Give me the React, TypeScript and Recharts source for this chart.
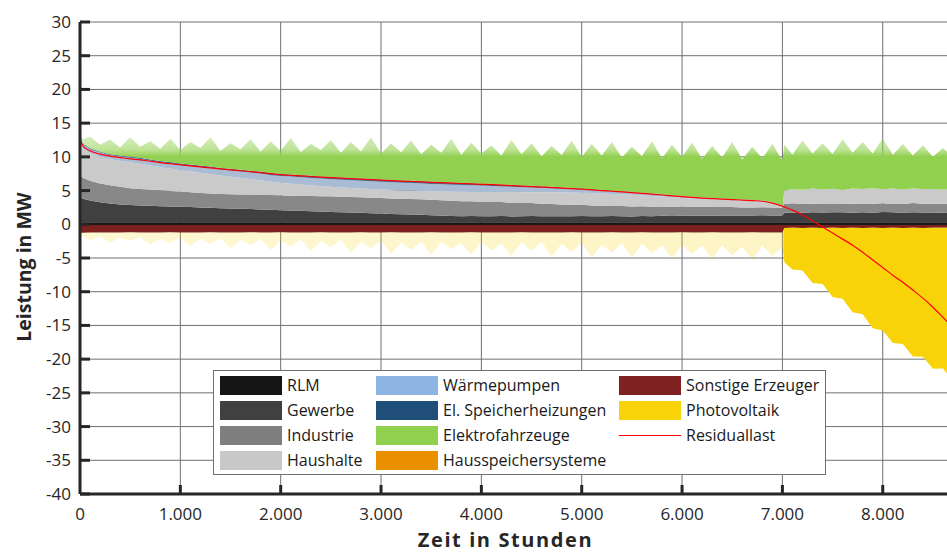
import React from 'react';
import {
  ComposedChart,
  Area,
  Line,
  XAxis,
  YAxis,
  CartesianGrid,
  ReferenceLine,
  Legend,
} from 'recharts';

// Hours of the year, sorted by descending residual load
const hours = [
  0, 30, 100, 200, 300, 400, 500, 600, 700, 800,
  900, 1000, 1100, 1200, 1300, 1400, 1500, 1600, 1700, 1800,
  1900, 2000, 2100, 2200, 2300, 2400, 2500, 2600, 2700, 2800,
  2900, 3000, 3100, 3200, 3300, 3400, 3500, 3600, 3700, 3800,
  3900, 4000, 4100, 4200, 4300, 4400, 4500, 4600, 4700, 4800,
  4900, 5000, 5100, 5200, 5300, 5400, 5500, 5600, 5700, 5800,
  5900, 6000, 6100, 6200, 6300, 6400, 6500, 6600, 6700, 6800,
  6900, 7000, 7020, 7100, 7200, 7300, 7400, 7500, 7600, 7700,
  7800, 7900, 8000, 8100, 8200, 8300, 8400, 8500, 8600, 8700,
  8760,
];

// Loads in MW (positive stack)
const rlm = [
  0.3, 0.3, 0.31, 0.3, 0.29, 0.3, 0.31, 0.3, 0.3, 0.29,
  0.3, 0.3, 0.31, 0.3, 0.3, 0.29, 0.3, 0.31, 0.3, 0.3,
  0.29, 0.3, 0.3, 0.31, 0.3, 0.3, 0.29, 0.3, 0.3, 0.31,
  0.3, 0.3, 0.29, 0.3, 0.31, 0.3, 0.3, 0.3, 0.29, 0.3,
  0.31, 0.3, 0.3, 0.29, 0.3, 0.3, 0.31, 0.3, 0.3, 0.29,
  0.3, 0.31, 0.3, 0.3, 0.29, 0.3, 0.3, 0.31, 0.3, 0.3,
  0.29, 0.3, 0.3, 0.31, 0.3, 0.3, 0.29, 0.3, 0.3, 0.31,
  0.3, 0.3, 0.32, 0.31, 0.32, 0.3, 0.31, 0.32, 0.3, 0.31,
  0.32, 0.3, 0.31, 0.32, 0.3, 0.31, 0.32, 0.3, 0.31, 0.32,
  0.3,
];

const gewerbe = [
  3.7, 3.5, 3.2, 2.95, 2.8, 2.65, 2.55, 2.5, 2.45, 2.4,
  2.35, 2.3, 2.25, 2.2, 2.15, 2.1, 2.05, 2.0, 1.95, 1.9,
  1.85, 1.8, 1.75, 1.7, 1.65, 1.6, 1.55, 1.5, 1.45, 1.4,
  1.35, 1.3, 1.25, 1.2, 1.15, 1.1, 1.05, 1.0, 0.95, 0.9,
  0.92, 0.88, 0.9, 0.95, 0.87, 0.9, 0.93, 0.89, 0.91, 0.9,
  0.9, 0.92, 0.88, 0.9, 0.93, 0.9, 0.87, 0.91, 0.9, 0.95,
  0.95, 0.97, 0.96, 1.0, 0.98, 1.0, 1.02, 1.0, 1.0, 1.03,
  1.0, 1.0, 1.4, 1.45, 1.4, 1.5, 1.42, 1.45, 1.5, 1.4,
  1.45, 1.4, 1.5, 1.45, 1.4, 1.48, 1.42, 1.45, 1.4, 1.45,
  1.4,
];

const industrie = [
  3.2, 3.1, 2.95, 2.8, 2.7, 2.6, 2.5, 2.45, 2.4, 2.35,
  2.3, 2.25, 2.2, 2.15, 2.1, 2.1, 2.1, 2.1, 2.15, 2.15,
  2.2, 2.2, 2.2, 2.25, 2.25, 2.25, 2.3, 2.3, 2.3, 2.3,
  2.3, 2.3, 2.3, 2.3, 2.3, 2.3, 2.3, 2.25, 2.25, 2.2,
  2.2, 2.15, 2.1, 2.05, 2.0, 1.95, 1.9, 1.85, 1.8, 1.75,
  1.7, 1.65, 1.6, 1.55, 1.5, 1.5, 1.45, 1.45, 1.4, 1.4,
  1.35, 1.35, 1.3, 1.3, 1.3, 1.25, 1.25, 1.2, 1.2, 1.2,
  1.2, 1.15, 1.3, 1.35, 1.3, 1.25, 1.35, 1.3, 1.3, 1.35,
  1.3, 1.35, 1.3, 1.25, 1.3, 1.35, 1.3, 1.3, 1.35, 1.3,
  1.3,
];

const haushalte = [
  5.2, 4.45, 4.13, 3.98, 3.86, 3.86, 3.84, 3.74, 3.57, 3.42,
  3.33, 3.17, 3.09, 2.98, 2.92, 2.73, 2.62, 2.48, 2.32, 2.18,
  1.95, 1.86, 1.77, 1.66, 1.57, 1.53, 1.43, 1.35, 1.32, 1.29,
  1.27, 1.25, 1.23, 1.21, 1.25, 1.24, 1.24, 1.34, 1.34, 1.44,
  1.37, 1.46, 1.49, 1.48, 1.6, 1.61, 1.62, 1.71, 1.74, 1.79,
  1.83, 1.81, 1.85, 1.83, 1.78, 1.74, 1.75, 1.63, 1.61, 1.46,
  1.42, 1.3, 1.27, 1.15, 1.12, 1.1, 1.03, 1.06, 1.0, 0.9,
  0.69, 0.3, 2.0, 2.1, 2.1, 2.25, 2.08, 2.2, 2.0, 2.25,
  2.15, 2.3, 2.1, 2.3, 2.15, 2.17, 2.18, 2.2, 2.05, 2.15,
  2.15,
];

const waermepumpen = [
  0.5, 0.5, 0.55, 0.6, 0.6, 0.65, 0.65, 0.7, 0.7, 0.75,
  0.75, 0.8, 0.8, 0.85, 0.85, 0.9, 0.9, 0.95, 0.95, 1.0,
  1.0, 1.0, 1.05, 1.05, 1.1, 1.1, 1.1, 1.15, 1.15, 1.15,
  1.15, 1.15, 1.15, 1.15, 1.1, 1.1, 1.1, 1.05, 1.05, 1.0,
  1.0, 0.95, 0.9, 0.85, 0.8, 0.75, 0.7, 0.65, 0.6, 0.55,
  0.5, 0.48, 0.45, 0.42, 0.4, 0.38, 0.35, 0.33, 0.3, 0.28,
  0.26, 0.24, 0.22, 0.2, 0.18, 0.16, 0.14, 0.12, 0.1, 0.08,
  0.06, 0.05, 0, 0, 0, 0, 0, 0, 0, 0,
  0, 0, 0, 0, 0, 0, 0, 0, 0, 0,
  0,
];

const speicherheizungen = [
  0.1, 0.1, 0.12, 0.12, 0.14, 0.14, 0.16, 0.16, 0.18, 0.18,
  0.2, 0.2, 0.22, 0.22, 0.24, 0.24, 0.26, 0.26, 0.28, 0.28,
  0.3, 0.3, 0.3, 0.32, 0.32, 0.32, 0.34, 0.34, 0.34, 0.35,
  0.35, 0.35, 0.35, 0.35, 0.35, 0.35, 0.34, 0.33, 0.32, 0.31,
  0.3, 0.29, 0.28, 0.27, 0.26, 0.25, 0.24, 0.22, 0.2, 0.18,
  0.16, 0.14, 0.12, 0.1, 0.09, 0.08, 0.07, 0.06, 0.05, 0.05,
  0.04, 0.04, 0.03, 0.03, 0.02, 0.02, 0.02, 0.01, 0.01, 0.01,
  0, 0, 0, 0, 0, 0, 0, 0, 0, 0,
  0, 0, 0, 0, 0, 0, 0, 0, 0, 0,
  0,
];

const elektrofahrzeuge = [
  0.4, 0.65, 1.75, 1.05, 2.2, 1.2, 2.9, 1.65, 2.7, 1.8,
  3.47, 1.98, 3.34, 2.6, 4.34, 2.53, 3.77, 3.01, 4.65, 2.99,
  4.7, 3.44, 5.43, 3.42, 4.71, 3.9, 5.48, 3.66, 5.34, 4.01,
  6.18, 3.85, 5.42, 4.19, 5.95, 4.01, 5.47, 4.33, 6.49, 4.15,
  6.01, 4.47, 5.73, 4.3, 6.67, 4.64, 6.31, 4.48, 6.05, 4.83,
  7.01, 4.7, 6.7, 5.1, 7.2, 5.0, 6.71, 5.42, 7.74, 5.36,
  7.48, 5.8, 8.02, 5.72, 7.7, 6.07, 8.44, 5.91, 7.89, 6.28,
  8.65, 6.7, 6.8, 5.1, 7.3, 5.2, 6.85, 5.15, 7.5, 5.3,
  7.0, 5.15, 7.5, 5.0, 6.75, 4.9, 6.5, 4.75, 6.2, 4.7,
  5.85,
];

// Generation in MW (negative stack)
const sonstigeErzeuger = [
  -1.25, -1.25, -1.22, -1.2, -1.22, -1.2, -1.18, -1.2, -1.22, -1.2,
  -1.18, -1.2, -1.22, -1.2, -1.18, -1.2, -1.2, -1.22, -1.18, -1.2,
  -1.2, -1.18, -1.2, -1.22, -1.2, -1.18, -1.2, -1.2, -1.22, -1.18,
  -1.2, -1.2, -1.18, -1.2, -1.22, -1.2, -1.18, -1.2, -1.2, -1.22,
  -1.18, -1.2, -1.2, -1.22, -1.2, -1.18, -1.2, -1.2, -1.22, -1.2,
  -1.18, -1.2, -1.2, -1.22, -1.18, -1.2, -1.2, -1.18, -1.2, -1.2,
  -1.22, -1.18, -1.2, -1.2, -1.18, -1.2, -1.22, -1.2, -1.18, -1.2,
  -1.2, -1.2, -0.55, -0.5, -0.55, -0.52, -0.55, -0.5, -0.55, -0.53,
  -0.55, -0.5, -0.55, -0.52, -0.55, -0.5, -0.55, -0.53, -0.5, -0.55,
  -0.55,
];

const photovoltaik = [
  -0.3, -0.5, -1.2, -0.6, -1.5, -0.8, -1.3, -0.7, -1.8, -0.9,
  -1.6, -0.8, -2.0, -1.0, -1.7, -0.9, -2.3, -1.1, -1.9, -1.0,
  -2.6, -1.2, -2.1, -1.0, -2.8, -1.3, -2.2, -1.1, -3.0, -1.4,
  -2.4, -1.2, -3.2, -1.5, -2.6, -1.3, -3.4, -1.4, -2.5, -1.6,
  -3.3, -1.4, -2.7, -1.6, -3.5, -1.5, -2.8, -1.4, -3.6, -1.7,
  -2.9, -1.5, -3.7, -1.8, -3.0, -1.6, -3.8, -1.7, -3.1, -1.9,
  -3.9, -1.8, -3.2, -2.0, -4.0, -1.9, -3.4, -2.1, -4.1, -2.0,
  -3.5, -2.2, -5.1, -6.2, -6.3, -8.2, -8.3, -10.3, -10.5, -12.5,
  -12.8, -14.9, -15.2, -17.1, -17.2, -19.1, -19.1, -20.9, -20.9, -22.7,
  -22.4,
];

const residuallast = [
  12.7, 11.6, 10.9, 10.4, 10.1, 9.9, 9.7, 9.55, 9.35, 9.15,
  8.98, 8.82, 8.66, 8.5, 8.36, 8.22, 8.08, 7.94, 7.8, 7.66,
  7.5, 7.36, 7.27, 7.18, 7.09, 7.0, 6.92, 6.84, 6.76, 6.69,
  6.62, 6.55, 6.48, 6.41, 6.35, 6.29, 6.23, 6.17, 6.11, 6.05,
  5.99, 5.93, 5.87, 5.8, 5.73, 5.66, 5.59, 5.52, 5.45, 5.37,
  5.29, 5.2, 5.1, 5.0, 4.9, 4.8, 4.69, 4.58, 4.46, 4.34,
  4.22, 4.1, 3.98, 3.88, 3.8, 3.73, 3.66, 3.59, 3.51, 3.42,
  3.15, 2.7, 2.58, 2.1, 1.4, 0.5, -0.4, -1.3, -2.2, -3.1,
  -4.15, -5.3, -6.4, -7.55, -8.6, -9.75, -10.95, -12.3, -13.8, -15.3,
  -16.2,
];

const xTicks = [0, 1000, 2000, 3000, 4000, 5000, 6000, 7000, 8000];
const yTicks = [-40, -35, -30, -25, -20, -15, -10, -5, 0, 5, 10, 15, 20, 25, 30];

// Legend layout: three columns of entries
const legendColumns = [
  [
    { name: 'RLM', color: '#151515' },
    { name: 'Gewerbe', color: '#404040' },
    { name: 'Industrie', color: '#7f7f7f' },
    { name: 'Haushalte', color: '#c8c8c8' },
  ],
  [
    { name: 'Wärmepumpen', color: '#8db4e2' },
    { name: 'El. Speicherheizungen', color: '#1f4e79' },
    { name: 'Elektrofahrzeuge', color: '#92d050' },
    { name: 'Hausspeichersysteme', color: '#ea8f00' },
  ],
  [
    { name: 'Sonstige Erzeuger', color: '#7f2121' },
    { name: 'Photovoltaik', color: '#f8d30a' },
    { name: 'Residuallast', color: '#ff0000', line: true },
  ],
];
const legendColumnX = [6, 162, 405];

const data = hours.map((hour, i) => ({
  hour,
  rlm: rlm[i],
  gewerbe: gewerbe[i],
  industrie: industrie[i],
  haushalte: haushalte[i],
  waermepumpen: waermepumpen[i],
  speicherheizungen: speicherheizungen[i],
  elektrofahrzeuge: elektrofahrzeuge[i],
  sonstigeErzeuger: sonstigeErzeuger[i],
  photovoltaik: photovoltaik[i],
  residuallast: residuallast[i],
}));

const FONT = "'Open Sans', 'Noto Sans', sans-serif";
const AXIS_COLOR = '#262626';
const TEXT_COLOR = '#262626';

const formatHour = (v: number) => {
  if (v < 1000) return String(v);
  return `${Math.floor(v / 1000)}.${String(v % 1000).padStart(3, '0')}`;
};

const LeftTick = (props: any) => {
  const { x, y, payload } = props;
  return (
    <g>
      <line x1={x} x2={x + 10} y1={y} y2={y} stroke={AXIS_COLOR} strokeWidth={3} />
      <text x={x - 9} y={y + 6} textAnchor="end" fontSize={17} fill={TEXT_COLOR} fontFamily={FONT}>
        {payload.value}
      </text>
    </g>
  );
};

const BottomTick = (props: any) => {
  const { x, y, payload } = props;
  return (
    <g>
      {payload.value !== 0 && (
        <line x1={x} x2={x} y1={y} y2={y - 9} stroke={AXIS_COLOR} strokeWidth={3} />
      )}
      <text x={x} y={y + 26} textAnchor="middle" fontSize={17} fill={TEXT_COLOR} fontFamily={FONT}>
        {formatHour(payload.value)}
      </text>
    </g>
  );
};

const TopTick = (props: any) => {
  const { x, y, payload } = props;
  if (payload.value === 0) return <g />;
  return <line x1={x} x2={x} y1={y} y2={y + 10} stroke={AXIS_COLOR} strokeWidth={3} />;
};

const renderYTitle = (props: any) => {
  const vb = props.viewBox;
  const cx = vb.x + 23;
  const cy = vb.y + vb.height / 2 + 9;
  return (
    <text
      x={cx}
      y={cy}
      transform={`rotate(-90 ${cx} ${cy})`}
      textAnchor="middle"
      dominantBaseline="central"
      fontSize={19.5}
      fontWeight={700}
      fill={TEXT_COLOR}
      fontFamily={FONT}
    >
      Leistung in MW
    </text>
  );
};

const renderXTitle = (props: any) => {
  const vb = props.viewBox;
  return (
    <text
      x={vb.x + vb.width / 2 - 14}
      y={vb.y + 53}
      textAnchor="middle"
      fontSize={20}
      letterSpacing={1.6}
      fontWeight={700}
      fill={TEXT_COLOR}
      fontFamily={FONT}
    >
      Zeit in Stunden
    </text>
  );
};

const LegendBox = () => (
  <div
    style={{
      position: 'relative',
      width: 613,
      height: 105,
      boxSizing: 'border-box',
      border: '1px solid #6e6e6e',
      background: '#ffffff',
      fontFamily: FONT,
      fontSize: 16,
      color: '#1a1a1a',
    }}
  >
    {legendColumns.map((col, ci) =>
      col.map((item: any, ri) => (
        <div
          key={item.name}
          style={{
            position: 'absolute',
            left: legendColumnX[ci],
            top: 4 + ri * 25,
            height: 20,
            display: 'flex',
            alignItems: 'center',
            whiteSpace: 'nowrap',
          }}
        >
          {item.line ? (
            <div style={{ width: 62, height: 19, display: 'flex', alignItems: 'center' }}>
              <div style={{ width: 62, height: 1, background: item.color }} />
            </div>
          ) : (
            <div style={{ width: 62, height: 19, background: item.color }} />
          )}
          <span style={{ marginLeft: 5, lineHeight: '20px' }}>{item.name}</span>
        </div>
      ))
    )}
  </div>
);

export default function App() {
  return (
    <div
      style={{
        position: 'fixed',
        left: 0,
        top: 0,
        width: 947,
        height: 553,
        overflow: 'hidden',
        background: '#ffffff',
      }}
    >
      <ComposedChart
        width={975}
        height={553}
        data={data}
        margin={{ top: 22, right: 16, bottom: 29, left: 0 }}
      >
        <defs>
          <linearGradient id="evFill" x1="0" y1="0" x2="0" y2="1">
            <stop offset="0" stopColor="#92d050" stopOpacity={0.32} />
            <stop offset="0.22" stopColor="#92d050" stopOpacity={0.6} />
            <stop offset="0.32" stopColor="#92d050" stopOpacity={1} />
            <stop offset="1" stopColor="#92d050" stopOpacity={1} />
          </linearGradient>
          <linearGradient id="pvFill" x1="0" y1="0" x2="1" y2="0">
            <stop offset="0" stopColor="#f8d30a" stopOpacity={0.18} />
            <stop offset="0.7991" stopColor="#f8d30a" stopOpacity={0.24} />
            <stop offset="0.8014" stopColor="#f8d30a" stopOpacity={1} />
            <stop offset="1" stopColor="#f8d30a" stopOpacity={1} />
          </linearGradient>
        </defs>
        <CartesianGrid stroke="#707070" strokeWidth={1} />
        <XAxis
          dataKey="hour"
          type="number"
          domain={[0, 8760]}
          ticks={xTicks}
          interval={0}
          height={30}
          tickSize={0}
          tickMargin={0}
          tick={<BottomTick />}
          axisLine={{ stroke: AXIS_COLOR, strokeWidth: 3 }}
          tickLine={false}
          label={renderXTitle}
        />
        <XAxis
          xAxisId="top"
          orientation="top"
          dataKey="hour"
          type="number"
          domain={[0, 8760]}
          ticks={xTicks}
          interval={0}
          height={0}
          tickSize={0}
          tickMargin={0}
          tick={<TopTick />}
          axisLine={{ stroke: AXIS_COLOR, strokeWidth: 3 }}
          tickLine={false}
        />
        <YAxis
          type="number"
          domain={[-40, 30]}
          ticks={yTicks}
          interval={0}
          width={80}
          tickSize={0}
          tickMargin={0}
          tick={<LeftTick />}
          axisLine={{ stroke: AXIS_COLOR, strokeWidth: 3 }}
          tickLine={false}
          label={renderYTitle}
        />

        <Area type="linear" dataKey="rlm" name="RLM" stackId="load" stroke="none" fill="#151515" fillOpacity={1} isAnimationActive={false} dot={false} activeDot={false} />
        <Area type="linear" dataKey="gewerbe" name="Gewerbe" stackId="load" stroke="none" fill="#404040" fillOpacity={1} isAnimationActive={false} dot={false} activeDot={false} />
        <Area type="linear" dataKey="industrie" name="Industrie" stackId="load" stroke="none" fill="#888888" fillOpacity={1} isAnimationActive={false} dot={false} activeDot={false} />
        <Area type="linear" dataKey="haushalte" name="Haushalte" stackId="load" stroke="none" fill="#cacaca" fillOpacity={1} isAnimationActive={false} dot={false} activeDot={false} />
        <Area type="linear" dataKey="waermepumpen" name="Wärmepumpen" stackId="load" stroke="none" fill="#a9bcd4" fillOpacity={1} isAnimationActive={false} dot={false} activeDot={false} />
        <Area type="linear" dataKey="speicherheizungen" name="El. Speicherheizungen" stackId="load" stroke="none" fill="#4d6d93" fillOpacity={1} isAnimationActive={false} dot={false} activeDot={false} />
        <Area type="linear" dataKey="elektrofahrzeuge" name="Elektrofahrzeuge" stackId="load" stroke="none" fill="url(#evFill)" fillOpacity={1} isAnimationActive={false} dot={false} activeDot={false} />

        <Area type="linear" dataKey="sonstigeErzeuger" name="Sonstige Erzeuger" stackId="gen" stroke="none" fill="#7b1f1f" fillOpacity={1} isAnimationActive={false} dot={false} activeDot={false} />
        <Area type="linear" dataKey="photovoltaik" name="Photovoltaik" stackId="gen" stroke="none" fill="url(#pvFill)" fillOpacity={1} isAnimationActive={false} dot={false} activeDot={false} />

        <ReferenceLine y={0} stroke="#1a1a1a" strokeWidth={1.5} />

        <Line type="monotone" dataKey="residuallast" name="Residuallast" stroke="#ff0000" strokeWidth={1.2} dot={false} activeDot={false} isAnimationActive={false} />

        <Legend
          layout="horizontal"
          verticalAlign="middle"
          align="center"
          content={() => <LegendBox />}
          wrapperStyle={{ left: 213, top: 370, width: 613, height: 105 }}
        />
      </ComposedChart>
    </div>
  );
}
